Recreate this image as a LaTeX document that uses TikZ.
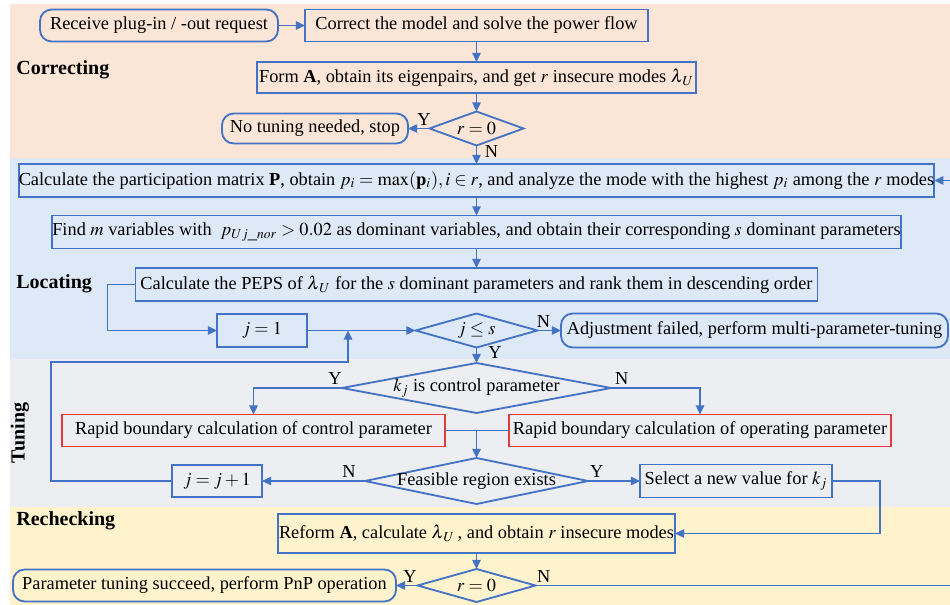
\documentclass[tikz,border=0pt]{standalone}
\usepackage{mathptmx}
\usepackage{fontspec}
\setmainfont{Liberation Serif}
\usepackage{xcolor}
\usepackage{tikz}
\usetikzlibrary{positioning}
\usetikzlibrary{arrows.meta}
\usetikzlibrary{shapes}

\definecolor{flowBlue}{RGB}{68,114,196}
\definecolor{boundRed}{RGB}{232,56,60}
\definecolor{correctingBg}{RGB}{251,229,214}
\definecolor{locatingBg}{RGB}{221,233,246}
\definecolor{tuningBg}{RGB}{236,238,242}
\definecolor{recheckingBg}{RGB}{255,243,206}

\begin{document}
\begin{tikzpicture}[
                    >={Stealth[inset=0pt,length=5.5pt,width=5pt]},
                processBox/.style = { rectangle, draw = flowBlue, line width = 1.1pt, text = black, font = \fontsize{11}{13}\selectfont, inner sep=0pt, outer sep=0pt },
                terminalBox/.style = { processBox, rounded corners = 7pt },
                boundBox/.style = { processBox, draw = boundRed },
                decisionShape/.style = { diamond, draw = flowBlue, line width = 1.1pt, text = black, font = \fontsize{11}{13}\selectfont, inner sep=0pt, outer sep=0pt },
                answer/.style = { font = \fontsize{11}{13}\selectfont, inner sep=1.5pt, text = black },
                stageName/.style = { font = \fontsize{12}{14}\selectfont\bfseries, inner sep=0pt, anchor = west, text = black },
                flowLine/.style = { draw = flowBlue, line width = 1.1pt },
                        ]
        \def\oneUnit{6pt}

        \useasboundingbox (0,0) rectangle (95*\oneUnit,-60.5*\oneUnit);

        % stage bands
        \fill[correctingBg] (1.0*\oneUnit,-0.4*\oneUnit) rectangle (95*\oneUnit,-15.8*\oneUnit);
        \fill[locatingBg] (1.0*\oneUnit,-15.8*\oneUnit) rectangle (95*\oneUnit,-35.9*\oneUnit);
        \fill[tuningBg] (1.0*\oneUnit,-35.9*\oneUnit) rectangle (95*\oneUnit,-50.7*\oneUnit);
        \fill[recheckingBg] (1.0*\oneUnit,-50.7*\oneUnit) rectangle (95*\oneUnit,-60.5*\oneUnit);

        \node[stageName] (correctingLabel) at (1.6*\oneUnit,-7.0*\oneUnit) {Correcting};
        \node[stageName] (locatingLabel) at (1.6*\oneUnit,-28.4*\oneUnit) {Locating};
        \node[stageName, rotate=90, anchor=center] (tuningLabel) at (2.0*\oneUnit,-43.3*\oneUnit) {Tuning};
        \node[stageName] (recheckingLabel) at (1.6*\oneUnit,-52.1*\oneUnit) {Rechecking};

        % correcting
        \node[terminalBox, minimum width=23.8*\oneUnit, minimum height=3.2*\oneUnit] (receive) at (15.9*\oneUnit,-2.55*\oneUnit) {Receive plug-in / -out request};
        \node[processBox, minimum width=34.3*\oneUnit, minimum height=3.2*\oneUnit] (correct) at (47.65*\oneUnit,-2.55*\oneUnit) {Correct the model and solve the power flow};
        \node[processBox, minimum width=43.9*\oneUnit, minimum height=3.1*\oneUnit] (formA) at (47.65*\oneUnit,-7.75*\oneUnit) {Form \textbf{A}, obtain its eigenpairs, and get $r$ insecure modes $\lambda_{\kern1pt U}$};
        \node[decisionShape, minimum width=9.4*\oneUnit, minimum height=3.4*\oneUnit] (rzero) at (47.65*\oneUnit,-12.85*\oneUnit) {\makebox[0pt]{$r=0$}};
        \node[terminalBox, minimum width=18.6*\oneUnit, minimum height=3.0*\oneUnit] (notuning) at (31.5*\oneUnit,-12.85*\oneUnit) {No tuning needed, stop};

        % locating
        \node[processBox, minimum width=91.3*\oneUnit, minimum height=3.3*\oneUnit] (calcP) at (47.65*\oneUnit,-18.05*\oneUnit) {Calculate the participation matrix \textbf{P}, obtain $p_i=\max(\mathbf{p}_i), i\in r$, and analyze the mode with the highest $p_i$ among the $r$ modes};
        \node[processBox, minimum width=84.7*\oneUnit, minimum height=3.3*\oneUnit] (findm) at (47.65*\oneUnit,-23.2*\oneUnit) {Find $m$ variables with \ $p_{Uj\_nor}>0.02$ as dominant variables, and obtain their corresponding $s$ dominant parameters};
        \node[processBox, minimum width=68.2*\oneUnit, minimum height=3.3*\oneUnit] (peps) at (47.65*\oneUnit,-28.45*\oneUnit) {Calculate the PEPS of $\lambda_{\kern1pt U}$ for the $s$ dominant parameters and rank them in descending order};
        \node[processBox, minimum width=9.0*\oneUnit, minimum height=3.3*\oneUnit] (jone) at (26.2*\oneUnit,-33.05*\oneUnit) {$j=1$};
        \node[decisionShape, minimum width=12.2*\oneUnit, minimum height=3.4*\oneUnit] (jles) at (47.65*\oneUnit,-33.05*\oneUnit) {\makebox[0pt]{$j\le s$}};
        \node[terminalBox, minimum width=38.7*\oneUnit, minimum height=3.4*\oneUnit] (failed) at (75.45*\oneUnit,-33.05*\oneUnit) {Adjustment failed, perform multi-parameter-tuning};

        % tuning
        \node[decisionShape, minimum width=26.9*\oneUnit, minimum height=5.0*\oneUnit] (kj) at (47.65*\oneUnit,-38.8*\oneUnit) {\makebox[0pt]{$k_j$ is control parameter}};
        \node[boundBox, minimum width=38.3*\oneUnit, minimum height=3.2*\oneUnit] (rapidctrl) at (25.35*\oneUnit,-43.05*\oneUnit) {Rapid boundary calculation of control parameter};
        \node[boundBox, minimum width=38.2*\oneUnit, minimum height=3.2*\oneUnit] (rapidop) at (70.0*\oneUnit,-43.05*\oneUnit) {Rapid boundary calculation of operating parameter};
        \coordinate (merge) at (47.65*\oneUnit,-43.05*\oneUnit);
        \node[decisionShape, minimum width=22.3*\oneUnit, minimum height=4.6*\oneUnit] (feasible) at (47.65*\oneUnit,-48.1*\oneUnit) {\makebox[0pt]{Feasible region exists}};
        \node[processBox, minimum width=9.0*\oneUnit, minimum height=3.2*\oneUnit] (jplus) at (21.7*\oneUnit,-48.1*\oneUnit) {$j=j+1$};
        \node[processBox, minimum width=19.2*\oneUnit, minimum height=3.3*\oneUnit] (selectk) at (73.6*\oneUnit,-48.1*\oneUnit) {Select a new value for $k_j$};
        \coordinate (loopTurn) at (34.8*\oneUnit,-36.2*\oneUnit);

        % rechecking
        \node[processBox, minimum width=39.7*\oneUnit, minimum height=3.9*\oneUnit] (reform) at (47.65*\oneUnit,-53.35*\oneUnit) {Reform \textbf{A}, calculate $\lambda_{\kern1pt U}$\,, and obtain $r$ insecure modes};
        \node[decisionShape, minimum width=11.8*\oneUnit, minimum height=3.3*\oneUnit] (rzerob) at (47.65*\oneUnit,-58.55*\oneUnit) {\makebox[0pt]{$r=0$}};
        \node[terminalBox, minimum width=38.3*\oneUnit, minimum height=3.2*\oneUnit] (succeed) at (20.45*\oneUnit,-58.55*\oneUnit) {Parameter tuning succeed, perform PnP operation};
        \coordinate (rightTurn) at (95.3*\oneUnit,-58.55*\oneUnit);

        \draw[flowLine, ->] (receive) -- (correct);
        \draw[flowLine, ->] (correct) -- (formA);
        \draw[flowLine, ->] (formA) -- (rzero);
        \draw[flowLine, ->] (rzero) -- node[answer, pos=0.26, above] {Y} (notuning);
        \draw[flowLine, ->] (rzero) -- node[answer, pos=0.3, right, xshift=3pt] {N} (calcP);
        \draw[flowLine, ->] (calcP) -- (findm);
        \draw[flowLine, ->] (findm) -- (peps);
        \draw[flowLine, ->] (peps.west) -- ++(-2.8*\oneUnit,0) |- (jone);
        \draw[flowLine, ->] (jone) -- (jles);
        \draw[flowLine, ->] (jles) -- node[answer, pos=0.25, above] {N} (failed);
        \draw[flowLine, ->] (jles) -- node[answer, pos=0.3, right, xshift=5pt] {Y} (kj);
        \draw[flowLine, ->] (kj.west) -| node[answer, pos=0.04, above] {Y} (rapidctrl);
        \draw[flowLine, ->] (kj.east) -| node[answer, pos=0.06, above] {N} (rapidop);
        \draw[flowLine] (rapidctrl) -- (merge);
        \draw[flowLine] (rapidop) -- (merge);
        \draw[flowLine, ->] (merge) -- (feasible);
        \draw[flowLine, ->] (feasible) -- node[answer, pos=0.155, above] {N} (jplus);
        \draw[flowLine, ->] (feasible) -- node[answer, pos=0.17, above] {Y} (selectk);
        \draw[flowLine, ->] (jplus.west) -- ++(-12.1*\oneUnit,0) |- (loopTurn) -- (loopTurn |- jone);
        \draw[flowLine, ->] (selectk.east) -- ++(4.8*\oneUnit,0) |- (reform);
        \draw[flowLine, ->] (reform) -- (rzerob);
        \draw[flowLine, ->] (rzerob) -- node[answer, pos=0.35, above] {Y} (succeed);
        \draw[flowLine, ->] (rzerob.east) -- node[answer, pos=0.02, above] {N} (rightTurn) |- (calcP.east);
\end{tikzpicture}
\end{document}
